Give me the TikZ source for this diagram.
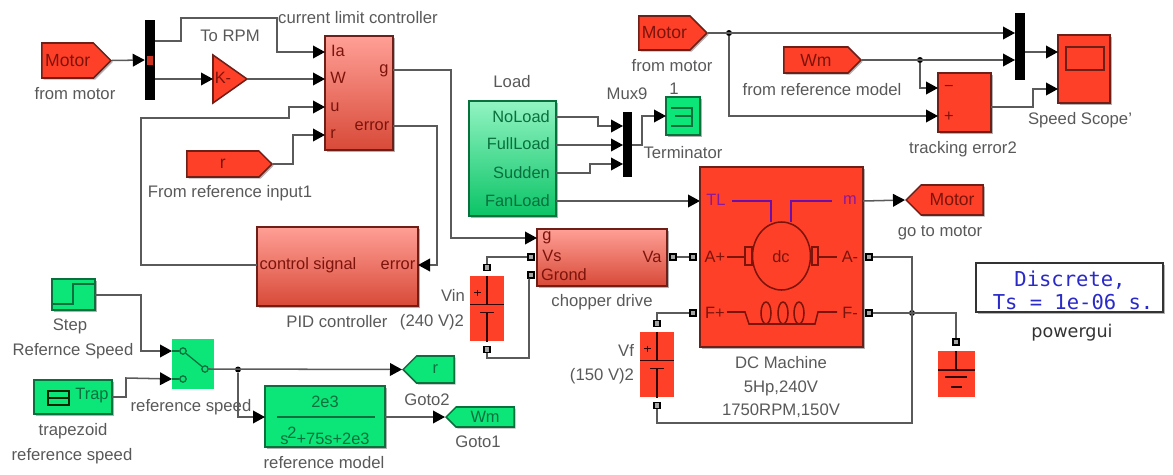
\documentclass[tikz,border=0pt]{standalone}
\usepackage{fontspec}
\setmainfont{Liberation Sans}
\usepackage{xcolor}
\usetikzlibrary{shapes.symbols,arrows.meta,shadows}
\definecolor{clrRed}{HTML}{FF4028}
\definecolor{clrGreen}{HTML}{0CE678}
\definecolor{clrRedTxt}{HTML}{7C140C}
\definecolor{clrGrnTxt}{HTML}{08703C}
\definecolor{clrLine}{HTML}{5A5A5A}
\definecolor{clrEdge}{HTML}{6E2018}
\definecolor{clrPurple}{HTML}{6A10A8}
\definecolor{clrPurpTxt}{HTML}{8C189C}
\definecolor{clrBlue}{HTML}{2A2AC8}
\definecolor{clrMaskT}{HTML}{FF9F96}
\definecolor{clrMaskB}{HTML}{D84A38}
\tikzset{
  sz/.style 2 args={minimum width=#1*0.03cm, minimum height=#2*0.03cm},
  blkshadow/.style={drop shadow={shadow xshift=0.05cm, shadow yshift=-0.05cm, opacity=0.3, fill=black}},
  redblk/.style={rectangle, draw=clrEdge, fill=clrRed, line width=1.3pt, inner sep=0pt, blkshadow},
  grnblk/.style={rectangle, draw=clrGrnTxt, fill=clrGreen, line width=1.3pt, inner sep=0pt, blkshadow},
  maskblk/.style={rectangle, draw=clrEdge, line width=1.3pt, inner sep=0pt, blkshadow,
    top color=clrMaskT, bottom color=clrMaskB},
  muxbar/.style={rectangle, fill=black, inner sep=0pt},
  tagred/.style={signal, signal pointer angle=90, draw=clrEdge, fill=clrRed, line width=1.3pt,
    inner sep=0pt, text=clrRedTxt, font=\fontsize{15}{17}\selectfont, blkshadow},
  taggrn/.style={signal, signal pointer angle=90, draw=clrGrnTxt, fill=clrGreen, line width=1.3pt,
    inner sep=0pt, text=clrGrnTxt, font=\fontsize{14}{16}\selectfont, blkshadow},
  lab/.style={text=black!65, inner sep=0pt, font=\fontsize{14.25}{17}\selectfont},
  redtxt/.style={text=clrRedTxt, inner sep=0pt, font=\fontsize{14}{16}\selectfont},
  grntxt/.style={text=clrGrnTxt, inner sep=0pt, font=\fontsize{14}{16}\selectfont},
  purptxt/.style={text=clrPurpTxt, inner sep=0pt, font=\fontsize{14}{16}\selectfont},
  edge/.style={-{Triangle[black, length=0.36cm, width=0.38cm]}, line width=1.3pt, clrLine},
  bus/.style={line width=1.3pt, clrLine},
  sym/.style={line width=1.3pt, clrRedTxt},
  port/.style={rectangle, draw=black, fill=black!35, line width=1.4pt, inner sep=0pt,
    minimum size=0.17cm},
  joint/.style={circle, fill=black, inner sep=0pt, minimum size=0.18cm},
  contact/.style={circle, draw=clrGrnTxt, line width=1.1pt, inner sep=0pt, minimum size=0.19cm},
}
\begin{document}
\begin{tikzpicture}[x=0.03cm, y=-0.03cm]
\useasboundingbox (0,0) rectangle (1173,474);

% controller side
\node[tagred, signal to=east, sz={69}{35}, anchor=east] (fmA) at (112,60.5) {Motor};
\node[muxbar, sz={10}{80}] (muxA) at (150,60) {};
\node[rectangle, fill=clrRed!80!black, sz={6}{9}, inner sep=0pt] (muxAm) at (150,60) {};
\node[maskblk, sz={68}{114}] (clc) at (359,93) {};
\node[maskblk, sz={161}{79}] (pid) at (337.5,266.5) {};
\node[maskblk, sz={130}{57}] (chop) at (602,257.5) {};
\node[tagred, signal to=east, sz={85}{26}, anchor=east] (fmR) at (273,164) {r};

\draw[fill=clrRed, draw=clrEdge, line width=1.3pt] (213,55) -- (247,79) -- (213,103) -- cycle;
\coordinate (kIn) at (213,79);
\coordinate (kOut) at (247,79);
\node[redtxt] (kTxt) at (223,78) {K-};

\foreach \nm/\px/\py/\tx in {clcA/338/51/Ia, clcW/338/78/W, clcU/335/107/u, clcR/333/134/r,
    clcG/384/71/g, clcE/372/126/error, pidC/308/265/control signal, pidE/398/265/error,
    chG/547/238/g, chV/552/256/Vs, chB/564/275/Grond, chA/652/257/Va}
  \node[redtxt] (\nm) at (\px,\py) {\tx};

\foreach \nm/\px/\py in {muxAt/155/41, muxAb/155/79, cIa/325/52, cW/325/79, cU/325/107, cR/325/135,
    cG/393/70, cErr/393/126, pidIn/418/265, pidOut/257/265, chIn/537/238,
    swA/172/351, swB/172/379, swOut/208/369, mdlIn/265/417, mdlOut/385/417,
    stepOut/95/295, trapOut/112/397, gotoR/402/369.5, gotoW/445/417}
  \coordinate (\nm) at (\px,\py);

\draw[edge] (fmA.east) -- (muxA.west);
\draw[edge] (muxAt) -- (181,41) -- (181,18) -- (277,18) -- (277,52) -- (cIa);
\draw[edge] (muxAb) -- (kIn);
\draw[edge] (kOut) -- (cW);
\draw[edge] (pidOut) -- (141,265) -- (141,118) -- (289,118) -- (289,107) -- (cU);
\draw[edge] (fmR.east) -- (293,164) -- (293,135) -- (cR);
\draw[edge] (cErr) -- (437,126) -- (437,265) -- (pidIn);
\draw[edge] (cG) -- (451,70) -- (451,238) -- (chIn);

% reference side
\node[grnblk, sz={43}{31}] (stepB) at (73.5,294.5) {};
\draw[line width=1.3pt, clrGrnTxt] (53,304) -- (73,304) -- (73,284) -- (95,284);
\node[grnblk, sz={78}{34}] (trapB) at (73,397) {};
\draw[line width=1.3pt, black!85!green] (48,391) rectangle (69,405) (48,398) -- (69,398);
\node[grntxt] (trapT) at (92,396) {Trap};
\node[rectangle, fill=clrGreen, sz={42}{50}, inner sep=0pt] (sw) at (193,364) {};
\node[contact] (swC1) at (183,351) {};
\node[contact] (swC2) at (183,379) {};
\node[contact] (swC3) at (205,369) {};
\draw[line width=1.1pt, clrGrnTxt] (swC1) -- (swC3);
\draw[line width=1.1pt, clrGrnTxt] (swA) -- (swC1) (swB) -- (swC2);
\node[grnblk, sz={120}{61}] (mdl) at (325,416.5) {};
\draw[line width=1.4pt, clrGrnTxt] (277,417) -- (375,417);
\node[grntxt] (mdlN) at (325,402) {2e3};
\node[grntxt] (mdlD) at (325,436) {s\kern-1pt\raisebox{5pt}{2}+75s+2e3};
\node[taggrn, signal to=west, sz={51}{27}, anchor=west] (toR) at (gotoR) {r};
\node[taggrn, signal to=west, sz={68}{20}, anchor=west] (toW) at (gotoW) {Wm};
\node[joint] (dotSw) at (238,369.5) {};

\draw[edge] (stepOut) -- (141,295) -- (141,351) -- (swA);
\draw[edge] (trapOut) -- (126,397) -- (126,378) -- (swB);
\draw[edge] (swOut) -- (gotoR);
\draw[edge] (dotSw) -- (238,417) -- (mdlIn);
\draw[edge] (mdlOut) -- (gotoW);

% load and chopper
\node[rectangle, draw=clrGrnTxt, line width=1.3pt, inner sep=0pt, top color=clrGreen!45!white,
      bottom color=clrGreen!85!black, sz={87}{115}, blkshadow] (load) at (512.5,158.5) {};
\foreach \nm/\py/\tx in {ldN/117/NoLoad, ldF/144/FullLoad, ldS/173/Sudden, ldL/201/FanLoad}
  \node[grntxt, anchor=east] (\nm) at (550,\py) {\tx};
\node[muxbar, sz={9}{65}] (mux9) at (627.5,144.5) {};
\node[grnblk, sz={34}{38}] (term) at (683,116) {};
\draw[line width=1.3pt, clrGrnTxt] (671,108) -- (692,108) -- (692,126) -- (671,126) (675,116) -- (692,116);

\foreach \nm/\px/\py in {ldOutA/556/117, ldOutB/556/145, ldOutC/556/173, ldOutD/556/201,
    mxA/623/126, mxB/623/145, mxC/623/164, mxOut/632/145, termIn/666/116, dcTL/700/201, dcM/863/201}
  \coordinate (\nm) at (\px,\py);
\draw[edge] (ldOutA) -- (598,117) -- (598,126) -- (mxA);
\draw[edge] (ldOutB) -- (mxB);
\draw[edge] (ldOutC) -- (590,173) -- (590,164) -- (mxC);
\draw[edge] (mxOut) -- (642,145) -- (642,116) -- (termIn);
\draw[edge] (ldOutD) -- (dcTL);

% sources: battery with two ports
\foreach \nm/\xc/\yc in {vin/487/308.5, vf/657/364.5}{
  \node[rectangle, fill=clrRed, sz={34}{65}, inner sep=0pt] (\nm) at (\xc,\yc) {};
  \node[port] (\nm T) at (\xc,{\yc-41}) {};
  \node[port] (\nm B) at (\xc,{\yc+41}) {};
  \draw[line width=1.4pt, black!80!red] (\xc,{\yc-33}) -- (\xc,{\yc-4}) ({\xc-17},{\yc-4}) -- ({\xc+17},{\yc-4});
  \draw[line width=1.4pt, black!80!red] ({\xc-7},{\yc+4}) -- ({\xc+7},{\yc+4}) (\xc,{\yc+4}) -- (\xc,{\yc+33});
  \draw[line width=1pt, black!80!red] ({\xc-13},{\yc-16}) -- ({\xc-6},{\yc-16}) ({\xc-9.5},{\yc-19}) -- ({\xc-9.5},{\yc-13});
}

% DC machine
\node[redblk, sz={163}{180}] (dc) at (781.5,257) {};
\draw[line width=1.3pt, clrPurple] (732,201) -- (771,201) -- (771,222) (791,222) -- (791,201) -- (832,201);
\draw[sym] (781.5,256) ellipse [x radius=29, y radius=34];
\draw[sym] (745,247) rectangle (752,265) (812,247) rectangle (818,265);
\draw[sym] (727,257) -- (745,257) (818,257) -- (837,257);
\draw[sym] (727,312) -- (745,312) -- (749,324) -- (815,324) -- (818,312) -- (837,312);
\foreach \xc in {766,783,799}
  \draw[sym] (\xc,313) ellipse [x radius=5, y radius=11];
\foreach \nm/\px/\py/\tx in {dcT/716/200/TL, dcN/850/200/m}
  \node[purptxt] (\nm) at (\px,\py) {\tx};
\foreach \nm/\px/\py/\tx in {dcAp/715/257/A+, dcAm/850/257/A-, dcFp/715/313/F+, dcFm/850/313/F-, dcC/781/257/dc}
  \node[redtxt] (\nm) at (\px,\py) {\tx};

\foreach \nm/\px/\py in {pVs/531/257, pGr/531/275, pVa/673/257, pAp/693/257, pFp/693/313, pAm/869/257, pFm/869/313, pGnd/956/342}
  \node[port] (\nm) at (\px,\py) {};

\draw[bus] (pVs) -- (487,257) -- (vinT);
\draw[bus] (vinB) -- (487,358) -- (529,358) -- (529,280) -- (pGr);
\draw[bus] (pVa) -- (pAp);
\draw[bus] (pFp) -- (657,313) -- (vfT);
\node[joint] (dotF) at (912,313) {};
\draw[bus] (pAm) -- (912,257) -- (912,423) -- (657,423) -- (vfB);
\draw[bus] (pFm) -- (956,313) -- (pGnd);

\node[rectangle, fill=clrRed, sz={37}{46}, inner sep=0pt] (gnd) at (956.5,374) {};
\draw[line width=1.4pt, black!80!red] (956,351) -- (956,370) (938,370) -- (975,370) (945,377) -- (967,377) (951,387) -- (962,387);

\node[tagred, signal to=west, sz={77}{30}, anchor=west] (toM) at (905,200) {Motor};
\draw[edge] (dcM) -- (toM.west);

% top right
\node[tagred, signal to=east, sz={68}{34}, anchor=east] (fmB) at (708,33) {Motor};
\node[tagred, signal to=east, sz={77}{26}, anchor=east] (fmW) at (862,60) {Wm};
\node[joint] (dotB) at (729,33) {};
\node[joint] (dotW) at (920,60) {};
\node[muxbar, sz={10}{67}] (muxB) at (1020,46.5) {};
\node[redblk, sz={53}{59}] (trk) at (964.5,102.5) {};
\node[redblk, sz={52}{68}] (scp) at (1084,69) {};
\draw[line width=1.4pt, clrEdge] (1066,47) rectangle (1104,70);
\node[redtxt] (trkM) at (949,88) {−};
\node[redtxt] (trkP) at (949,117) {+};
\foreach \nm/\px/\py in {mbA/1015/33, mbB/1015/60, mbOut/1025/52, scA/1058/52, scB/1058/89, trkA/938/88, trkB/938/116, trkOut/991/107}
  \coordinate (\nm) at (\px,\py);
\draw[edge] (fmB.east) -- (mbA);
\draw[edge] (fmW.east) -- (mbB);
\draw[edge] (dotB) -- (729,116) -- (trkB);
\draw[edge] (dotW) -- (920,88) -- (trkA);
\draw[edge] (mbOut) -- (scA);
\draw[edge] (trkOut) -- (1033,107) -- (1033,89) -- (scB);

% block names
\foreach \nm/\px/\py/\tx in {
    nA/75/94/from motor, nB/230/36/To RPM, nC/358/18/current limit controller,
    nD/230/193/From reference input1, nE/337/322/PID controller,
    nF/453/295/Vin, nG/432/322/(240 V)2, nH/70/326/Step, nI/73/351/Refernce Speed,
    nJ/191/407/reference speed, nK/73/431/trapezoid, nL/72/456/reference speed,
    nM/427/400/Goto2, nN/478/442/Goto1, nO/324/463/reference model,
    nP/512/82/Load, nQ/627/94/Mux9, nR/674/89/1, nS/683/153/Terminator,
    nT/672/66/from motor, nU/822/90/from reference model, nV/963/149/tracking error2,
    nW/1080/120/Speed Scope', nX/602/302/chopper drive, nY/626/350/Vf, nZ/602/376/(150 V)2,
    nAa/781/363/DC Machine, nAb/781/388/{5Hp,240V}, nAc/781/411/{1750RPM,150V},
    nAd/940/233/go to motor}
  \node[lab] (\nm) at (\px,\py) {\tx};

% powergui
\node[rectangle, draw=black!80, fill=white, line width=1.4pt, sz={187}{49}, inner sep=0pt, blkshadow] (pg) at (1069.5,287.5) {};
\node[text=clrBlue, inner sep=0pt, font=\fontsize{17.5}{20}\fontspec{DejaVu Sans Mono}] (pgA) at (1070,280) {Discrete,};
\node[text=clrBlue, inner sep=0pt, font=\fontsize{17.5}{20}\fontspec{DejaVu Sans Mono}] (pgB) at (1073,302) {Ts = 1e-06 s.};
\node[text=black!80, inner sep=0pt, font=\fontsize{15}{18}\fontspec{DejaVu Sans}] (pgL) at (1072,333) {powergui};

\end{tikzpicture}
\end{document}
